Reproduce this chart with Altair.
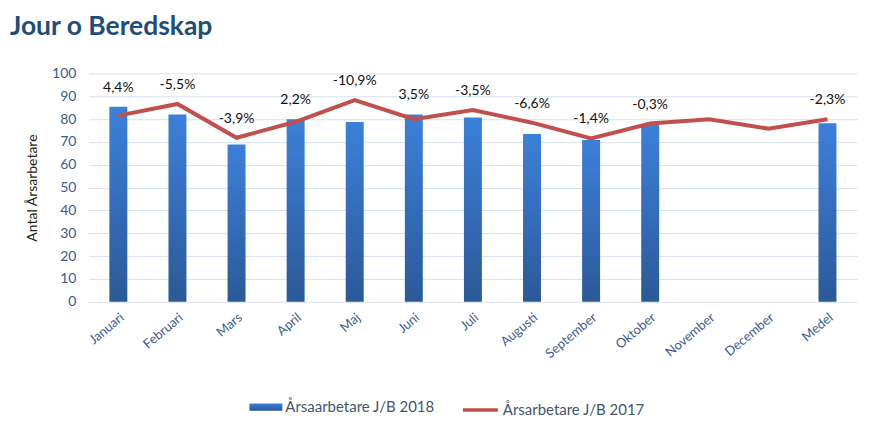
import altair as alt
import pandas as pd

months = ["Januari", "Februari", "Mars", "April", "Maj", "Juni", "Juli",
          "Augusti", "September", "Oktober", "November", "December", "Medel"]
v2018 = [85.4, 82.0, 68.9, 79.9, 78.7, 82.0, 80.7, 73.4, 70.8, 77.4, None, None, 78.2]
v2017 = [81.5, 86.6, 71.8, 78.8, 88.3, 79.9, 83.9, 78.4, 71.5, 78.0, 79.9, 75.8, 79.9]
labels = ["4,4%", "-5,5%", "-3,9%", "2,2%", "-10,9%", "3,5%", "-3,5%",
          "-6,6%", "-1,4%", "-0,3%", None, None, "-2,3%"]

s2018 = "Årsaarbetare J/B 2018"
s2017 = "Årsarbetare J/B 2017"

df = pd.DataFrame({"month": months, "v2018": v2018, "v2017": v2017, "label": labels})
df["s2018"] = s2018
df["s2017"] = s2017

FONT = "Lato, Carlito, Calibri, sans-serif"
AXIS_COL = "#3a5b8f"

x = alt.X("month:N", sort=months, title=None,
          scale=alt.Scale(paddingInner=0.0, paddingOuter=0.0),
          axis=alt.Axis(labelAngle=320, labelColor=AXIS_COL, labelFontSize=13,
                        labelFont=FONT, ticks=False, domain=False, grid=False,
                        labelPadding=9))

y_axis = alt.Axis(values=list(range(0, 101, 10)), labelColor=AXIS_COL, labelFontSize=14,
                  labelFont=FONT, ticks=False, domain=False, gridColor="#d6e1f0",
                  labelPadding=13, labelOverlap=False,
                  title="Antal Årsarbetare", titleFont=FONT,
                  titleFontSize=14, titleFontWeight="normal", titleColor="#222222",
                  titlePadding=12)
y_scale = alt.Scale(domain=[0, 100])

grad = alt.Gradient(gradient="linear",
                    stops=[alt.GradientStop(color="#3c80da", offset=0),
                           alt.GradientStop(color="#2b5998", offset=1)],
                    x1=0, x2=0, y1=0, y2=1)

LEG_Y = 318

bars = alt.Chart(df).mark_bar(size=18, color=grad).encode(
    x=x,
    y=alt.Y("v2018:Q", scale=y_scale, axis=y_axis),
    opacity=alt.Opacity("s2018:N", scale=alt.Scale(range=[1]),
                        legend=alt.Legend(title=None, orient="none",
                                          legendX=161, legendY=LEG_Y,
                                          symbolType="M-1,-0.22L1,-0.22L1,0.22L-1,0.22Z",
                                          symbolSize=1089, symbolFillColor="#2f67b8",
                                          symbolStrokeWidth=0, symbolOpacity=1,
                                          labelFont=FONT, labelFontSize=15,
                                          labelColor="#44546a", labelOffset=3)),
)

line = alt.Chart(df).mark_line(strokeWidth=4).encode(
    x=x,
    y=alt.Y("v2017:Q", scale=y_scale, axis=y_axis),
    color=alt.Color("s2017:N", scale=alt.Scale(range=["#c0504d"]),
                    legend=alt.Legend(title=None, orient="none",
                                      legendX=373, legendY=LEG_Y,
                                      symbolType="stroke", symbolSize=1225,
                                      symbolStrokeWidth=3.5,
                                      labelFont=FONT, labelFontSize=15,
                                      labelColor="#44546a", labelOffset=3)),
)

text = alt.Chart(df).transform_filter(
    "datum.label != null"
).transform_calculate(
    top="max(datum.v2018 == null ? 0 : datum.v2018, datum.v2017)"
).mark_text(dy=-19, baseline="middle", font=FONT, fontSize=14, color="#111111").encode(
    x=x,
    y=alt.Y("top:Q", scale=y_scale, axis=y_axis),
    text="label:N",
)

chart = alt.layer(bars, line, text).resolve_legend(
    color="independent", opacity="independent"
).properties(
    width=770, height=229,
    padding={"left": 2, "top": 5, "right": 5, "bottom": 5},
    title=alt.TitleParams("Jour o Beredskap", anchor="start", frame="group",
                          font=FONT, fontSize=26.5, fontWeight="bold",
                          color="#1f4e79", offset=26, dx=-79),
).configure_view(stroke=None)

chart.save("out.html", embed_options={"renderer": "svg", "actions": False})
